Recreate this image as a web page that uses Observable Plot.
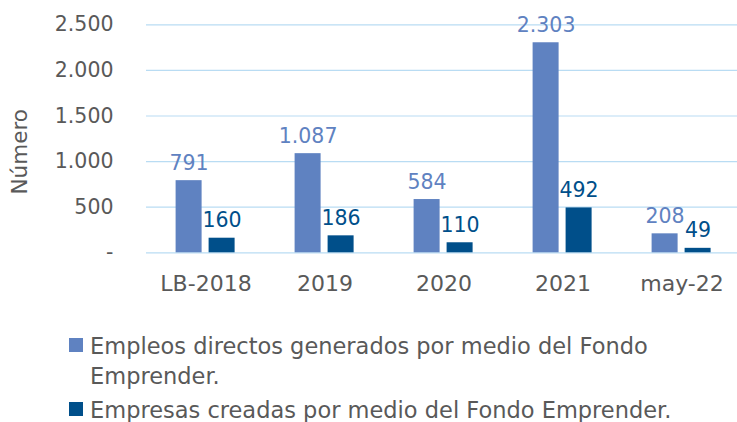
<!DOCTYPE html>
<html>
<head>
<meta charset="utf-8">
<script src="https://cdn.jsdelivr.net/npm/d3@7"></script>
<script src="https://cdn.jsdelivr.net/npm/@observablehq/plot@0.6"></script>
<style>
  html, body { margin: 0; padding: 0; background: #fff; overflow: hidden; width: 737px; }
  body { font-family: "DejaVu Sans", sans-serif; }
  #legend { padding: 30.6px 0 0 69px; color: #595959; font-size: 22.5px; line-height: 30px; }
  .item { display: flex; align-items: flex-start; }
  .item + .item { margin-top: 4px; }
  .sw { flex: none; width: 14px; height: 14px; margin-top: 7.4px; margin-right: 7px; }
</style>
</head>
<body>
<div id="chart"></div>
<div id="legend"></div>
<script>
const categories = ["LB-2018", "2019", "2020", "2021", "may-22"];
const seriesNames = [
  "Empleos directos generados por medio del Fondo Emprender.",
  "Empresas creadas por medio del Fondo Emprender."
];
const empleos = [791, 1087, 584, 2303, 208];
const empresas = [160, 186, 110, 492, 49];
const yTicks = [0, 500, 1000, 1500, 2000, 2500];
const yLabel = "Número";
const colors = ["#5f82c1", "#004f8a"];

const rows = [];
categories.forEach((c, i) => {
  rows.push({cat: c, serie: seriesNames[0], value: empleos[i]});
  rows.push({cat: c, serie: seriesNames[1], value: empresas[i]});
});

const locale = d3.formatLocale({decimal: ",", thousands: ".", grouping: [3], currency: ["", ""]});
const fmt = locale.format(",d");
const textColor = "#595959";

const chart = Plot.plot({
  width: 741,
  height: 300,
  marginLeft: 145.4,
  marginRight: 0,
  marginTop: 24.3,
  marginBottom: 47.7,
  style: {fontFamily: "DejaVu Sans", maxWidth: "none", background: "#fff"},
  fx: {domain: categories, padding: 0, label: null},
  x: {domain: seriesNames, paddingInner: 0.215, paddingOuter: 0.87, axis: null},
  y: {domain: [0, 2500], axis: null},
  color: {domain: seriesNames, range: colors},
  marks: [
    Plot.ruleY(yTicks, {stroke: "#b9dcf3", strokeWidth: 1.2}),
    Plot.barY(rows, {fx: "cat", x: "serie", y: "value", fill: "serie"}),
    Plot.text(rows, {
      fx: "cat", x: "serie", y: "value",
      text: d => fmt(d.value),
      fill: "serie",
      lineAnchor: "middle",
      dy: -17.5,
      fontSize: 20.5
    }),
    Plot.axisFx({anchor: "bottom", tickSize: 0, tickPadding: 23, fontSize: 22, color: textColor, label: null}),
    Plot.axisY({
      ticks: yTicks, tickSize: 0, tickPadding: 33, fontSize: 20.5, color: textColor,
      tickFormat: d => d === 0 ? "-" : fmt(d),
      label: null
    }),
    Plot.text([yLabel], {
      fx: () => categories[0],
      frameAnchor: "left",
      text: d => d,
      rotate: -90,
      textAnchor: "middle",
      lineAnchor: "middle",
      dx: -126.4,
      dy: 13,
      fontSize: 21.5,
      fill: textColor
    })
  ]
});
document.getElementById("chart").appendChild(chart);

const legend = d3.select("#legend");
seriesNames.forEach((name, i) => {
  const item = legend.append("div").attr("class", "item");
  item.append("div").attr("class", "sw").style("background", colors[i]);
  item.append("div").text(name);
});
</script>
</body>
</html>
